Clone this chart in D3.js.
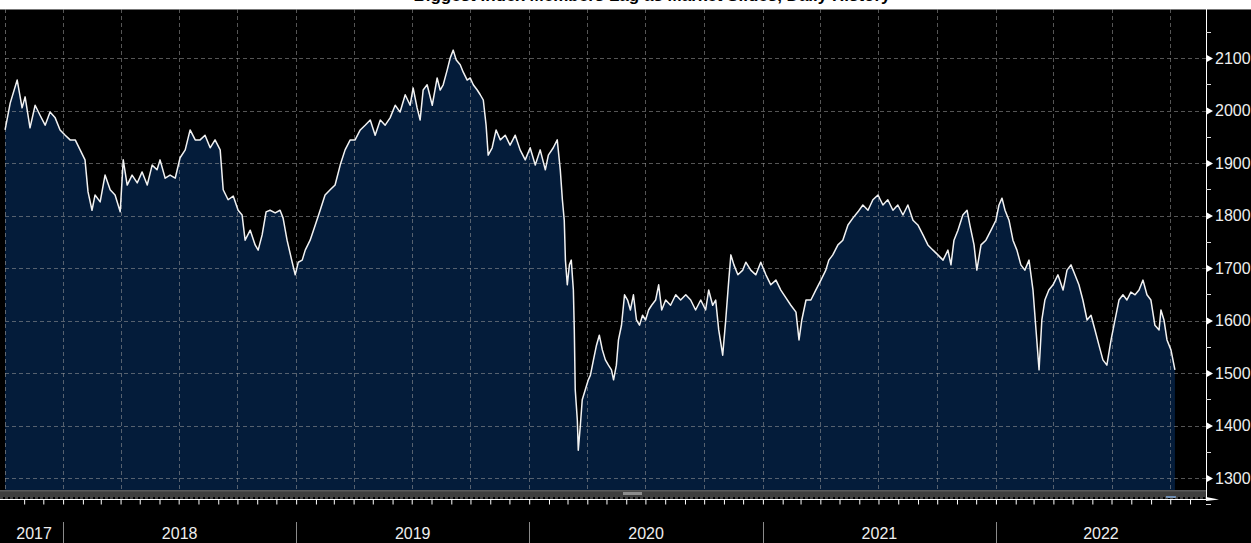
<!DOCTYPE html>
<html>
<head>
<meta charset="utf-8">
<script src="https://cdn.jsdelivr.net/npm/d3@7"></script>
<style>
  html, body { margin:0; padding:0; background:#000; overflow:hidden; }
  svg { display:block; font-family:"Liberation Sans", Arial, sans-serif; }
</style>
</head>
<body>
<div id="plot"></div>
<script>
// index level (decimal year, close)
var years = [
  2017.751,2017.773,2017.803,2017.824,2017.837,2017.858,2017.880,2017.901,2017.923,2017.944,2017.966,2017.987,
  2018.009,2018.030,2018.052,2018.073,2018.094,2018.107,2018.124,2018.137,2018.159,2018.180,2018.202,2018.223,
  2018.245,2018.258,2018.275,2018.296,2018.318,2018.339,2018.361,2018.382,2018.403,2018.416,2018.438,2018.459,
  2018.481,2018.502,2018.524,2018.545,2018.567,2018.588,2018.609,2018.631,2018.652,2018.674,2018.687,2018.708,
  2018.730,2018.751,2018.768,2018.781,2018.803,2018.824,2018.837,2018.854,2018.871,2018.888,2018.910,2018.931,
  2018.944,2018.961,2018.983,2018.996,2019.009,2019.026,2019.039,2019.060,2019.082,2019.103,2019.124,2019.146,
  2019.167,2019.189,2019.210,2019.232,2019.253,2019.275,2019.296,2019.318,2019.339,2019.361,2019.382,2019.403,
  2019.425,2019.446,2019.468,2019.489,2019.502,2019.519,2019.532,2019.545,2019.562,2019.584,2019.605,2019.618,
  2019.631,2019.648,2019.661,2019.674,2019.687,2019.704,2019.717,2019.734,2019.747,2019.760,2019.777,2019.790,
  2019.803,2019.815,2019.824,2019.841,2019.858,2019.876,2019.897,2019.918,2019.940,2019.961,2019.983,2020.004,
  2020.026,2020.047,2020.069,2020.082,2020.103,2020.120,2020.133,2020.142,2020.150,2020.155,2020.163,2020.172,
  2020.180,2020.189,2020.193,2020.197,2020.206,2020.210,2020.219,2020.227,2020.240,2020.253,2020.262,2020.275,
  2020.288,2020.300,2020.313,2020.326,2020.339,2020.352,2020.361,2020.373,2020.382,2020.395,2020.408,2020.421,
  2020.433,2020.446,2020.459,2020.472,2020.485,2020.498,2020.511,2020.524,2020.541,2020.554,2020.567,2020.584,
  2020.605,2020.627,2020.648,2020.670,2020.691,2020.712,2020.734,2020.755,2020.768,2020.785,2020.798,2020.811,
  2020.828,2020.841,2020.854,2020.863,2020.876,2020.893,2020.914,2020.927,2020.948,2020.970,2020.991,2021.013,
  2021.034,2021.056,2021.077,2021.099,2021.120,2021.142,2021.155,2021.167,2021.185,2021.206,2021.227,2021.249,
  2021.270,2021.283,2021.300,2021.322,2021.343,2021.365,2021.386,2021.408,2021.429,2021.451,2021.472,2021.494,
  2021.515,2021.536,2021.558,2021.579,2021.601,2021.622,2021.644,2021.665,2021.687,2021.708,2021.730,2021.751,
  2021.773,2021.794,2021.807,2021.820,2021.837,2021.858,2021.876,2021.888,2021.906,2021.918,2021.936,2021.957,
  2021.979,2022.000,2022.013,2022.026,2022.039,2022.056,2022.073,2022.090,2022.107,2022.124,2022.142,2022.159,
  2022.172,2022.185,2022.197,2022.210,2022.227,2022.245,2022.266,2022.288,2022.305,2022.322,2022.339,2022.356,
  2022.373,2022.391,2022.408,2022.425,2022.442,2022.459,2022.476,2022.494,2022.511,2022.528,2022.545,2022.562,
  2022.579,2022.597,2022.614,2022.631,2022.648,2022.665,2022.682,2022.700,2022.708,2022.721,2022.734,2022.751,
  2022.768
];

var closes = [
  1963,2014,2058,2005,2026,1967,2010,1991,1972,1997,1986,1963,
  1953,1944,1944,1925,1906,1845,1810,1839,1826,1877,1849,1839,
  1807,1906,1858,1877,1862,1883,1858,1896,1887,1906,1871,1877,
  1871,1910,1925,1963,1944,1944,1953,1929,1944,1925,1849,1830,
  1837,1810,1801,1753,1772,1744,1734,1763,1807,1810,1805,1810,
  1795,1753,1711,1687,1711,1715,1734,1753,1782,1810,1839,1849,
  1858,1896,1925,1944,1944,1963,1972,1982,1953,1982,1972,1986,
  2010,1997,2030,2010,2043,2005,1982,2039,2049,2010,2062,2039,
  2049,2077,2100,2115,2096,2087,2073,2058,2062,2049,2039,2030,
  2020,1972,1915,1929,1963,1944,1953,1934,1953,1925,1906,1929,
  1896,1925,1887,1915,1929,1944,1887,1830,1791,1715,1668,1706,
  1715,1658,1582,1468,1410,1353,1401,1449,1468,1487,1496,1525,
  1553,1572,1544,1525,1515,1506,1487,1515,1563,1591,1649,1639,
  1620,1649,1601,1591,1610,1601,1620,1629,1639,1668,1620,1639,
  1629,1649,1639,1649,1639,1620,1639,1620,1658,1629,1639,1582,
  1534,1601,1677,1725,1706,1687,1696,1711,1696,1687,1711,1687,
  1668,1677,1658,1643,1629,1616,1563,1601,1639,1639,1658,1677,
  1696,1715,1725,1744,1753,1782,1795,1807,1820,1810,1830,1839,
  1820,1830,1810,1820,1801,1820,1791,1782,1763,1744,1734,1725,
  1715,1734,1706,1753,1772,1801,1810,1782,1744,1696,1744,1753,
  1772,1791,1820,1833,1810,1791,1753,1734,1706,1696,1715,1658,
  1582,1506,1601,1639,1658,1668,1687,1658,1696,1706,1687,1668,
  1639,1601,1610,1582,1553,1525,1515,1563,1601,1639,1649,1639,
  1654,1649,1658,1677,1649,1639,1591,1582,1620,1601,1563,1544,
  1506
];

var yTicks = [1300,1400,1500,1600,1700,1800,1900,2000,2100];
var yearLabels = ['2017','2018','2019','2020','2021','2022'];
var title = 'Biggest Index Members Lag as Market Slides, Daily History';

var W = 1251, H = 543;
var box = {l:5, r:1206, t:9, b:490};

function decToDate(t){
  var yr = Math.floor(t);
  var a = new Date(yr,0,1), b = new Date(yr+1,0,1);
  return new Date(+a + (t-yr)*(b-a));
}

var data = years.map(function(t,i){ return {date:decToDate(t), value:closes[i]}; });

var x = d3.scaleTime()
  .domain([new Date(2017,9,2), new Date(2022,10,26)])
  .range([box.l, box.r]);
var y = d3.scaleLinear()
  .domain([1300,2100])
  .range([478,58]);

var svg = d3.select('#plot').append('svg')
  .attr('width',W).attr('height',H);

svg.append('rect').attr('width',W).attr('height',H).attr('fill','#000');

// title strip (only the bottom of the title shows)
svg.append('rect').attr('x',0).attr('y',0).attr('width',W).attr('height',box.t).attr('fill','#fff');
svg.append('text')
  .attr('x',652).attr('y',1)
  .attr('text-anchor','middle')
  .attr('font-size',17).attr('font-weight','bold')
  .attr('fill','#000')
  .text(title);
svg.append('line').attr('x1',0).attr('x2',W).attr('y1',box.t+0.5).attr('y2',box.t+0.5)
  .attr('stroke','#777');

// area + line
var area = d3.area()
  .x(function(d){return x(d.date);})
  .y0(box.b)
  .y1(function(d){return y(d.value);});
var line = d3.line()
  .x(function(d){return x(d.date);})
  .y(function(d){return y(d.value);});

svg.append('path').datum(data).attr('d',area).attr('fill','#041c3a');

// grid
var quarters = d3.timeMonth.every(3).range(x.domain()[0], x.domain()[1]);
svg.append('g').selectAll('line').data(quarters).enter().append('line')
  .attr('x1',function(d){return Math.round(x(d))+0.5;})
  .attr('x2',function(d){return Math.round(x(d))+0.5;})
  .attr('y1',box.t).attr('y2',box.b)
  .attr('stroke','#9a9a9a').attr('stroke-opacity',0.55)
  .attr('stroke-dasharray','4,3');
svg.append('line')
  .attr('x1',box.l+0.5).attr('x2',box.l+0.5).attr('y1',box.t).attr('y2',box.b)
  .attr('stroke','#9a9a9a').attr('stroke-opacity',0.6).attr('stroke-dasharray','4,3');
svg.append('g').selectAll('line').data(yTicks).enter().append('line')
  .attr('x1',box.l).attr('x2',box.r)
  .attr('y1',function(d){return Math.round(y(d))+0.5;})
  .attr('y2',function(d){return Math.round(y(d))+0.5;})
  .attr('stroke','#9a9a9a').attr('stroke-opacity',0.55)
  .attr('stroke-dasharray','4,3');

svg.append('path').datum(data).attr('d',line)
  .attr('fill','none').attr('stroke','#f2f2f2').attr('stroke-width',1.5)
  .attr('stroke-linejoin','round');

// bottom bar and time axis
svg.append('rect').attr('x',0).attr('y',box.b).attr('width',box.r).attr('height',7).attr('fill','#3e3e3e');
svg.append('rect').attr('x',0).attr('y',box.b).attr('width',box.r).attr('height',1.5).attr('fill','#5a5a5a');
svg.append('rect').attr('x',623).attr('y',box.b+2).attr('width',19).attr('height',3).attr('fill','#8c8c8c');
svg.append('rect')
  .attr('x',x(data[data.length-1].date)-9).attr('y',box.b+6)
  .attr('width',10).attr('height',2).attr('fill','#6d8fb8');
svg.append('line').attr('x1',0).attr('x2',box.r).attr('y1',498).attr('y2',498)
  .attr('stroke','#888').attr('stroke-dasharray','3,2');

var xAxis = d3.axisBottom(x)
  .ticks(d3.timeMonth.every(1))
  .tickSize(5)
  .tickFormat('');
var gx = svg.append('g').attr('transform','translate(0,499.5)').call(xAxis);
gx.select('.domain').attr('stroke','#fff').attr('d','M0,0H'+box.r);
gx.selectAll('.tick line').attr('stroke','#fff');
svg.append('path').attr('d','M'+box.r+',497L1219,499.5L'+box.r+',501Z').attr('fill','#fff');

// year separators and labels
var yearStarts = yearLabels.map(function(s){ return new Date(+s,0,1); });
svg.append('g').selectAll('line').data(yearStarts.slice(1)).enter().append('line')
  .attr('x1',function(d){return Math.round(x(d))+0.5;})
  .attr('x2',function(d){return Math.round(x(d))+0.5;})
  .attr('y1',522).attr('y2',H)
  .attr('stroke','#8a8a8a');
svg.append('g').selectAll('text').data(yearLabels).enter().append('text')
  .attr('x',function(s){
    var a = Math.max(x(new Date(+s,0,1)), box.l);
    var b = Math.min(x(new Date(+s+1,0,1)), box.r);
    return (a+b)/2;
  })
  .attr('y',539)
  .attr('text-anchor','middle')
  .attr('font-size',16)
  .attr('fill','#eee')
  .text(function(s){return s;});

// right value axis
svg.append('line').attr('x1',box.r+0.5).attr('x2',box.r+0.5).attr('y1',box.t).attr('y2',499)
  .attr('stroke','#fff');
var minor = d3.range(1250,2200,100);
svg.append('g').selectAll('line').data(minor).enter().append('line')
  .attr('x1',box.r).attr('x2',box.r+5)
  .attr('y1',function(d){return Math.round(y(d))+0.5;})
  .attr('y2',function(d){return Math.round(y(d))+0.5;})
  .attr('stroke','#ddd');

var yAxis = d3.axisRight(y).tickValues(yTicks).tickSize(0).tickPadding(9)
  .tickFormat(d3.format('d'));
var gy = svg.append('g').attr('transform','translate('+box.r+',0)').call(yAxis);
gy.select('.domain').remove();
gy.selectAll('.tick text').attr('font-size',16).attr('fill','#eee')
  .attr('font-family','"Liberation Sans", Arial, sans-serif');
gy.selectAll('.tick').append('path')
  .attr('d','M0,-4L7,0L0,4Z').attr('fill','#fff');
</script>
</body>
</html>
